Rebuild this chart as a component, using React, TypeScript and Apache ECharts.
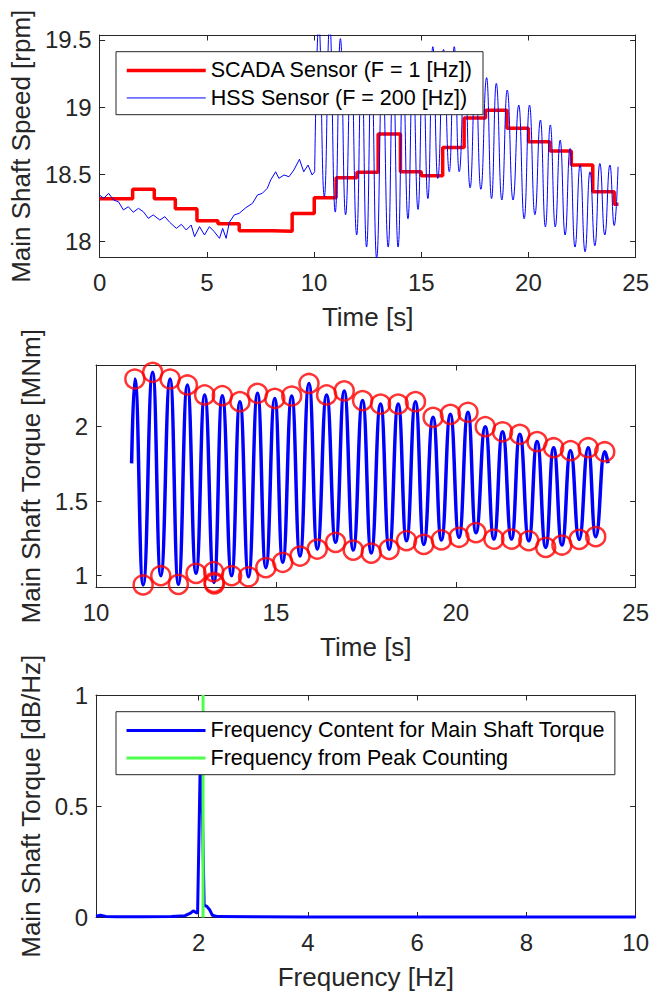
import React, { useEffect, useRef } from "react";
import * as echarts from "echarts";

const FONT = "'Liberation Sans', Arial, Helvetica, sans-serif";
const AXC = "#262626";

// ---------- Panel 1: main shaft speed ----------
const speedXTicks = [0, 5, 10, 15, 20, 25];
const speedYTicks = [18, 18.5, 19, 19.5];
const scadaTime = [0, 1.54, 2.55, 3.53, 4.54, 5.52, 6.51, 8.06, 8.98, 10.01, 11.03, 12.0, 12.99, 14.03, 15.0, 16.0, 17.0, 18.0, 19.0, 20.0, 21.0, 22.0, 23.0, 24.0, 24.2];
const scadaSpeed = [18.32, 18.39, 18.32, 18.245, 18.156, 18.134, 18.082, 18.077, 18.21, 18.327, 18.476, 18.517, 18.8, 18.52, 18.49, 18.7, 18.92, 18.977, 18.843, 18.743, 18.674, 18.57, 18.372, 18.278, 18.278];
const hssCalmTime = [0, 0.19, 0.42, 0.65, 0.88, 1.11, 1.34, 1.57, 1.81, 2.04, 2.27, 2.5, 2.81, 3.04, 3.27, 3.58, 3.81, 4.04, 4.27, 4.43, 4.66, 4.89, 5.12, 5.35, 5.59, 5.74, 5.9, 6.05, 6.28, 6.51, 6.82, 7.13, 7.36, 7.59, 7.82, 7.98, 8.21, 8.36, 8.6, 8.83, 9.06, 9.32, 9.52, 9.72, 9.91, 10.03];
const hssCalmSpeed = [18.347, 18.322, 18.36, 18.31, 18.297, 18.236, 18.26, 18.219, 18.248, 18.223, 18.174, 18.199, 18.161, 18.186, 18.144, 18.099, 18.129, 18.087, 18.124, 18.037, 18.112, 18.05, 18.112, 18.074, 18.025, 18.099, 18.025, 18.144, 18.199, 18.211, 18.253, 18.285, 18.347, 18.36, 18.397, 18.459, 18.52, 18.471, 18.496, 18.483, 18.533, 18.613, 18.52, 18.57, 18.496, 18.52];
const hssOscTime = [10.03, 10.22, 10.48, 10.73, 10.99, 11.23, 11.47, 11.73, 11.99, 12.22, 12.45, 12.68, 12.92, 13.19, 13.46, 13.69, 13.92, 14.15, 14.38, 14.61, 14.85, 15.08, 15.31, 15.54, 15.77, 16.04, 16.31, 16.54, 16.77, 17.03, 17.28, 17.53, 17.78, 18.05, 18.28, 18.5, 18.76, 19.01, 19.28, 19.55, 19.8, 20.05, 20.3, 20.56, 20.79, 21.02, 21.25, 21.48, 21.71, 21.94, 22.17, 22.41, 22.64, 22.87, 23.1, 23.33, 23.56, 23.8, 24.0, 24.18];
const hssOscSpeed = [18.52, 19.62, 18.335, 19.62, 18.22, 19.51, 18.2, 19.38, 18.05, 19.35, 17.96, 19.3, 17.875, 19.33, 17.96, 19.3, 17.96, 19.28, 18.17, 19.3, 18.24, 19.35, 18.32, 19.45, 18.47, 19.43, 18.52, 19.45, 18.52, 19.3, 18.4, 19.25, 18.39, 19.22, 18.32, 19.178, 18.31, 19.128, 18.31, 19.016, 18.17, 19.016, 18.2, 18.905, 18.11, 18.868, 18.11, 18.755, 18.05, 18.693, 17.96, 18.57, 17.925, 18.52, 17.97, 18.582, 18.05, 18.57, 18.12, 18.558];

// ---------- Panel 2: main shaft torque ----------
const torqueXTicks = [10, 15, 20, 25];
const torqueYTicks = [1, 1.5, 2];
const peakTime = [11.08, 11.575, 12.06, 12.54, 13.02, 13.51, 14.0, 14.49, 14.97, 15.44, 15.92, 16.41, 16.9, 17.41, 17.91, 18.4, 18.88, 19.37, 19.85, 20.34, 20.82, 21.3, 21.78, 22.26, 22.72, 23.19, 23.68, 24.14];
const peakTorque = [2.32, 2.365, 2.32, 2.28, 2.213, 2.208, 2.168, 2.224, 2.19, 2.206, 2.29, 2.213, 2.24, 2.175, 2.152, 2.152, 2.168, 2.063, 2.083, 2.097, 2.0, 1.966, 1.949, 1.9, 1.859, 1.839, 1.859, 1.832];
const troughTime = [11.31, 11.8, 12.29, 12.78, 13.28, 13.77, 14.24, 14.72, 15.19, 15.67, 16.15, 16.66, 17.15, 17.65, 18.15, 18.63, 19.11, 19.6, 20.09, 20.56, 21.06, 21.55, 22.03, 22.5, 22.95, 23.43, 23.89];
const troughTorque = [0.938, 1.0, 0.942, 1.016, 0.955, 1.0, 0.993, 1.054, 1.09, 1.132, 1.179, 1.224, 1.172, 1.152, 1.177, 1.235, 1.21, 1.24, 1.258, 1.289, 1.246, 1.246, 1.235, 1.19, 1.206, 1.244, 1.262];
const extraTroughTime = [13.27, 13.29];
const extraTroughTorque = [1.027, 0.945];
const torqueStart = [10.99, 1.754];
const torqueEnd = [24.23, 1.754];

// ---------- Panel 3: spectrum ----------
const freqXTicks = [2, 4, 6, 8, 10];
const freqYTicks = [0, 0.5, 1];
const freqHz = [0.12, 0.2, 0.3, 0.5, 1.0, 1.5, 1.75, 1.85, 1.9, 1.95, 1.98, 2.04, 2.1, 2.15, 2.2, 2.25, 2.35, 3, 4, 6, 8, 10];
const freqAmp = [0.006, 0.01, 0.005, 0.003, 0.003, 0.004, 0.008, 0.02, 0.03, 0.022, 0.02, 0.85, 0.055, 0.05, 0.035, 0.01, 0.004, 0.003, 0.002, 0.002, 0.002, 0.002];
const peakCountFreq = 2.08;
const peakCountAmp = [0, 1];

const SCADA = "SCADA Sensor (F = 1 [Hz])";
const HSS = "HSS Sensor (F = 200 [Hz])";
const FC = "Frequency Content for Main Shaft Torque";
const FP = "Frequency from Peak Counting";

const zip = (a: number[], b: number[]) => a.map((x, i) => [x, b[i]]);

const GRIDS = [
  { left: 96, top: 35, width: 541, height: 222.5 },
  { left: 96, top: 365, width: 541, height: 222.5 },
  { left: 96, top: 695, width: 541, height: 222.5 },
];

function axesFor(g: number, xr: number[], xt: number[], yr: number[], yt: number[], xName: string, yName: string) {
  const line = { onZero: false, lineStyle: { color: AXC, width: 1 } };
  const tick = (vals: number[]) => ({ inside: true, length: 5.5, customValues: vals, lineStyle: { color: AXC, width: 1 } });
  const label = (vals: number[], margin: number) => ({
    customValues: vals, margin, color: AXC, fontSize: 24, fontFamily: FONT,
  });
  const nameStyle = { fontSize: 26, color: AXC, fontFamily: FONT };
  const xs = [
    {
      type: "value", gridIndex: g, min: xr[0], max: xr[1], position: "bottom",
      axisLine: line, axisTick: tick(xt), axisLabel: label(xt, 13), splitLine: { show: false },
      name: xName, nameLocation: "middle", nameGap: 46, nameTextStyle: nameStyle,
    },
    {
      type: "value", gridIndex: g, min: xr[0], max: xr[1], position: "top",
      axisLine: line, axisTick: tick(xt), axisLabel: { show: false }, splitLine: { show: false },
    },
  ];
  const ys = [
    {
      type: "value", gridIndex: g, min: yr[0], max: yr[1], position: "left",
      axisLine: line, axisTick: tick(yt), axisLabel: label(yt, 8), splitLine: { show: false },
      name: yName, nameLocation: "middle", nameGap: 52, nameTextStyle: nameStyle,
    },
    {
      type: "value", gridIndex: g, min: yr[0], max: yr[1], position: "right",
      axisLine: line, axisTick: tick(yt), axisLabel: { show: false }, splitLine: { show: false },
    },
  ];
  return { xs, ys };
}

function legendAt(top: number, data: any[]) {
  return {
    orient: "vertical", left: 116, top,
    backgroundColor: "#ffffff", borderColor: AXC, borderWidth: 1,
    padding: [5, 10, 3, 9], itemGap: 0, itemWidth: 79, itemHeight: 14,
    selectedMode: false,
    itemStyle: { opacity: 0 },
    textStyle: { fontSize: 21.5, color: "#000", fontFamily: FONT, lineHeight: 27.5 },
    data,
  };
}

export default function App() {
  const ref = useRef<HTMLDivElement>(null);
  useEffect(() => {
    if (!ref.current) return;
    const chart = echarts.init(ref.current, undefined, { renderer: "svg" });
    const a1 = axesFor(0, [0, 25], speedXTicks, [17.8825, 19.537], speedYTicks, "Time [s]", "Main Shaft Speed [rpm]");
    const a2 = axesFor(1, [10, 25], torqueXTicks, [0.921, 2.414], torqueYTicks, "Time [s]", "Main Shaft Torque [MNm]");
    const a3 = axesFor(2, [0.12, 10], freqXTicks, [0, 1], freqYTicks, "Frequency [Hz]", "Main Shaft Torque [dB/Hz]");
    const torqueLine = [torqueStart];
    const pk = zip(peakTime, peakTorque);
    const tr = zip(troughTime, troughTorque);
    for (let i = 0; i < pk.length; i++) {
      torqueLine.push(pk[i]);
      if (i < tr.length) torqueLine.push(tr[i]);
    }
    torqueLine.push(torqueEnd);
    const option: any = {
      animation: false,
      backgroundColor: "#ffffff",
      textStyle: { fontFamily: FONT },
      grid: GRIDS.map((g) => ({ ...g, show: false })),
      xAxis: [...a1.xs, ...a2.xs, ...a3.xs],
      yAxis: [...a1.ys, ...a2.ys, ...a3.ys],
      legend: [
        legendAt(51.7, [
          { name: SCADA, lineStyle: { width: 3.5 } },
          { name: HSS, lineStyle: { width: 1 } },
        ]),
        legendAt(711.7, [
          { name: FC, lineStyle: { width: 3 } },
          { name: FP, lineStyle: { width: 3 } },
        ]),
      ],
      series: [
        {
          name: SCADA, type: "line", xAxisIndex: 0, yAxisIndex: 0, step: "end",
          data: zip(scadaTime, scadaSpeed), symbol: "none",
          lineStyle: { color: "#ff0000", width: 3.5 }, itemStyle: { color: "#ff0000" },
        },
        {
          name: HSS, type: "line", xAxisIndex: 0, yAxisIndex: 0,
          data: zip(hssCalmTime, hssCalmSpeed), symbol: "none",
          lineStyle: { color: "#0000ff", width: 1 }, itemStyle: { color: "#0000ff" },
        },
        {
          name: HSS, type: "line", xAxisIndex: 0, yAxisIndex: 0, smooth: 0.5, smoothMonotone: "x",
          data: zip(hssOscTime, hssOscSpeed), symbol: "none",
          lineStyle: { color: "#0000ff", width: 1 }, itemStyle: { color: "#0000ff" },
        },
        {
          name: "Torque", type: "line", xAxisIndex: 2, yAxisIndex: 2, smooth: 0.5, smoothMonotone: "x",
          data: torqueLine, symbol: "none",
          lineStyle: { color: "#0000ff", width: 3.5 }, itemStyle: { color: "#0000ff" },
        },
        {
          name: "Peaks", type: "scatter", xAxisIndex: 2, yAxisIndex: 2, z: 3,
          data: [...pk, ...tr, ...zip(extraTroughTime, extraTroughTorque)],
          symbol: "circle", symbolSize: 19,
          itemStyle: { color: "rgba(0,0,0,0)", borderColor: "#ff0000", borderWidth: 2.5 },
        },
        {
          name: FC, type: "line", xAxisIndex: 4, yAxisIndex: 4,
          data: zip(freqHz, freqAmp), symbol: "none",
          lineStyle: { color: "#0000ff", width: 3 }, itemStyle: { color: "#0000ff" },
        },
        {
          name: FP, type: "line", xAxisIndex: 4, yAxisIndex: 4,
          data: peakCountAmp.map((v) => [peakCountFreq, v]), symbol: "none",
          lineStyle: { color: "#4dff4d", width: 3 }, itemStyle: { color: "#4dff4d" },
        },
      ],
    };
    chart.setOption(option);
    return () => chart.dispose();
  }, []);
  return (
    <div
      ref={ref}
      style={{ position: "absolute", left: 0, top: 0, width: 652, height: 994, background: "#fff" }}
    />
  );
}
